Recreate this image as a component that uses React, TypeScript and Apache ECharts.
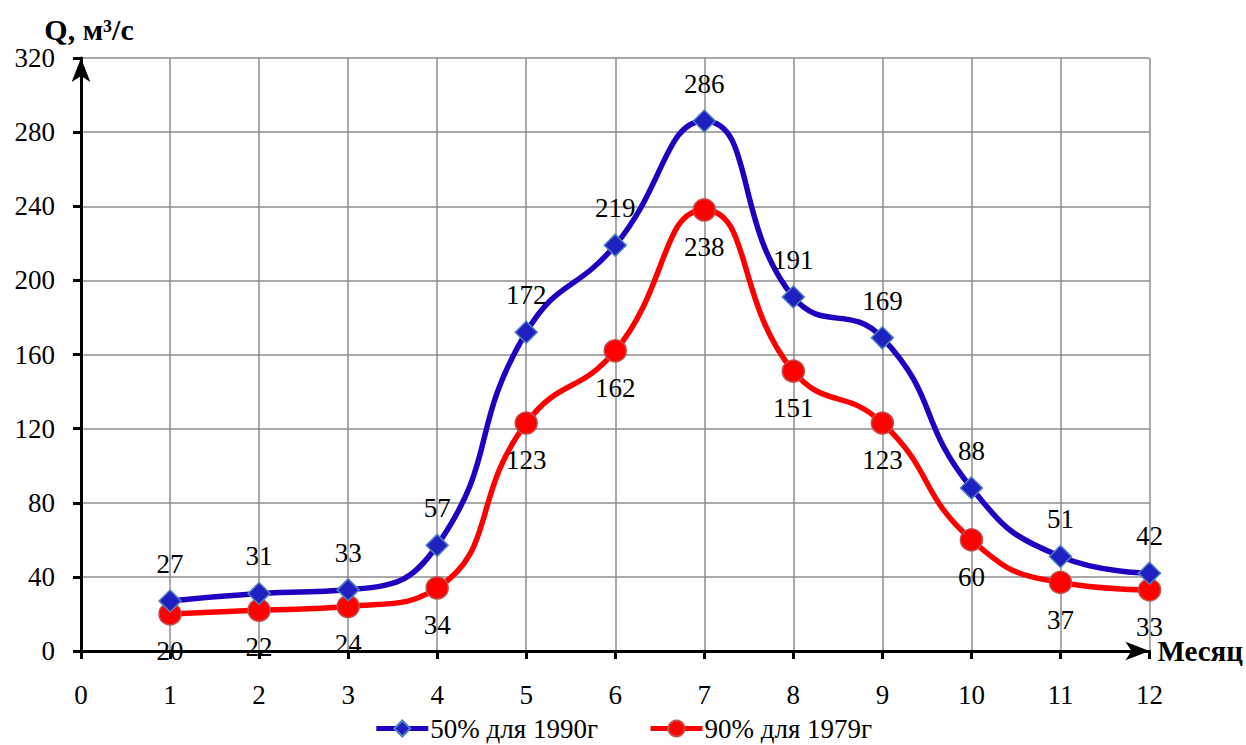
import React, { useEffect, useRef } from "react";
import * as echarts from "echarts";

const months = [1, 2, 3, 4, 5, 6, 7, 8, 9, 10, 11, 12];
const q50 = [27, 31, 33, 57, 172, 219, 286, 191, 169, 88, 51, 42];
const q90 = [20, 22, 24, 34, 123, 162, 238, 151, 123, 60, 37, 33];
const name50 = "50% для 1990г";
const name90 = "90% для 1979г";

const FONT = "'Liberation Serif', 'Times New Roman', serif";

export default function App() {
  const ref = useRef<HTMLDivElement>(null);
  useEffect(() => {
    document.body.style.margin = "0";
    const chart = echarts.init(ref.current!, null, { renderer: "svg" });
    chart.setOption({
      animation: false,
      textStyle: { fontFamily: FONT, color: "#000" },
      grid: { left: 81, right: 96, top: 58, bottom: 94 },
      legend: {
        bottom: -2,
        left: "center",
        itemWidth: 52,
        itemHeight: 20,
        itemGap: 50,
        lineStyle: { width: 5 },
        textStyle: { fontFamily: FONT, fontSize: 27, color: "#000", padding: [0, 0, 0, -3] },
        data: [name50, name90],
      },
      xAxis: {
        type: "value",
        min: 0,
        max: 12,
        interval: 1,
        name: "Месяц",
        nameLocation: "end",
        nameGap: 8,
        nameTextStyle: { fontFamily: FONT, fontSize: 29, fontWeight: "bold", color: "#000", padding: [12, 0, 0, 0] },
        axisLine: { show: true, symbol: ["none", "arrow"], symbolSize: [14, 24], lineStyle: { color: "#000", width: 3 } },
        axisTick: { show: true, length: 8, lineStyle: { color: "#000", width: 3 } },
        axisLabel: { margin: 30, fontSize: 27, color: "#000", fontFamily: FONT },
        splitLine: { show: true, lineStyle: { color: "#8c8c8c", width: 1.5 } },
      },
      yAxis: {
        type: "value",
        min: 0,
        max: 320,
        interval: 40,
        name: "Q, м³/с",
        nameLocation: "end",
        nameGap: 14,
        nameTextStyle: { fontFamily: FONT, fontSize: 30, fontWeight: "bold", color: "#000", padding: [0, 0, 0, 16] },
        axisLine: { show: true, symbol: ["none", "arrow"], symbolSize: [14, 24], lineStyle: { color: "#000", width: 3 } },
        axisTick: { show: true, length: 8, lineStyle: { color: "#000", width: 3 } },
        axisLabel: { margin: 26, fontSize: 27, color: "#000", fontFamily: FONT },
        splitLine: { show: true, lineStyle: { color: "#8c8c8c", width: 1.5 } },
      },
      series: [
        {
          name: name50,
          type: "line",
          smooth: 0.5,
          data: months.map((m, i) => [m, q50[i]]),
          symbol: "diamond",
          symbolSize: 22,
          lineStyle: { color: "#2000C0", width: 5.5 },
          itemStyle: { color: "#2020C0", borderColor: "#4F81BD", borderWidth: 1.5 },
          label: {
            show: true,
            position: "top",
            distance: 12,
            fontSize: 27,
            color: "#000",
            fontFamily: FONT,
            formatter: (p: any) => String(p.value[1]),
          },
          z: 3,
        },
        {
          name: name90,
          type: "line",
          smooth: 0.5,
          data: months.map((m, i) => [m, q90[i]]),
          symbol: "circle",
          symbolSize: 22,
          lineStyle: { color: "#FF0000", width: 5.5 },
          itemStyle: { color: "#FF0000", borderColor: "#C0504D", borderWidth: 1.5 },
          label: {
            show: true,
            position: "bottom",
            distance: 12,
            fontSize: 27,
            color: "#000",
            fontFamily: FONT,
            formatter: (p: any) => String(p.value[1]),
          },
          z: 2,
        },
      ],
    });
    return () => chart.dispose();
  }, []);
  return <div ref={ref} style={{ width: 1246, height: 745 }} />;
}
